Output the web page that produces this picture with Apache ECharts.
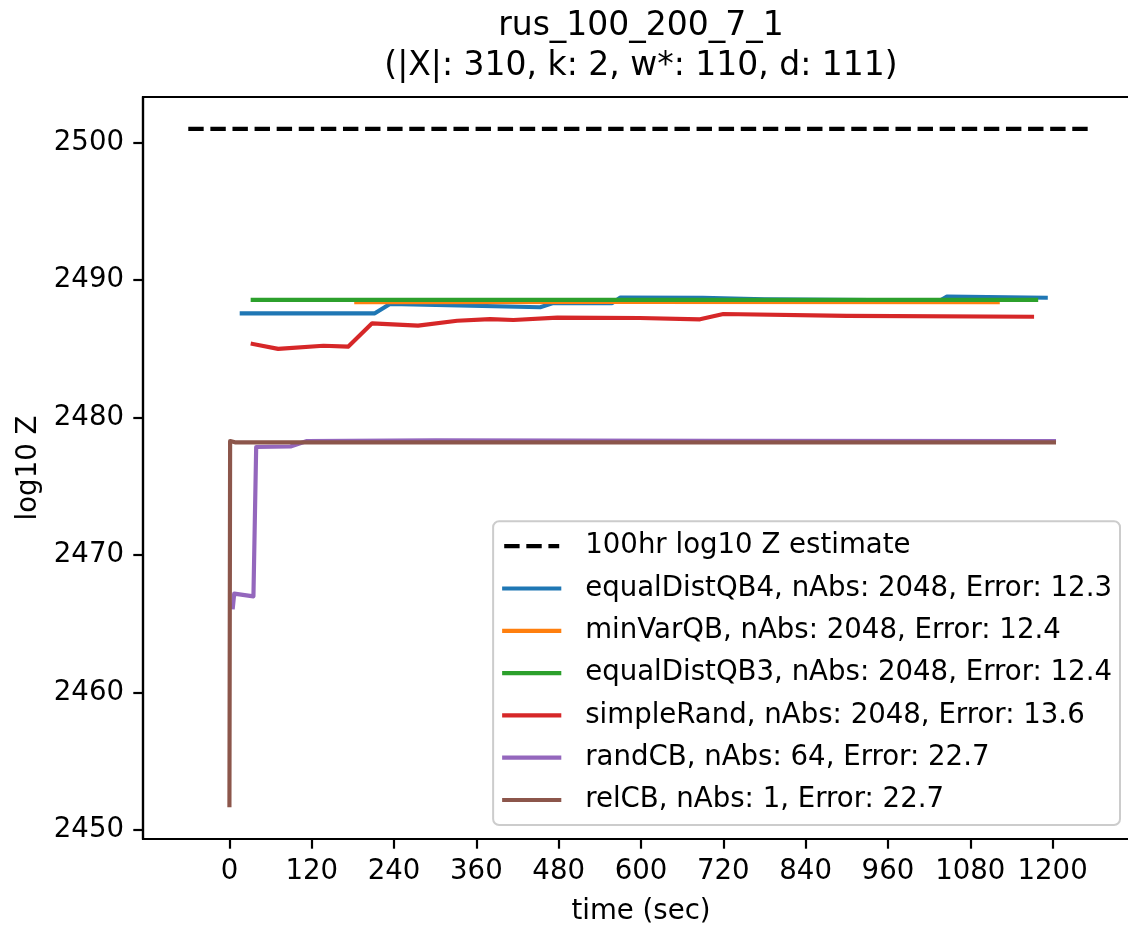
<!DOCTYPE html>
<html>
<head>
<meta charset="utf-8">
<title>rus_100_200_7_1</title>
<script src="https://cdn.jsdelivr.net/npm/echarts@6/dist/echarts.min.js"></script>
<style>
  html, body { margin: 0; padding: 0; background: #fff; }
  #main { width: 1128px; height: 927px; }
</style>
</head>
<body>
<div id="main"></div>
<script>
// tick labels
var xTicks = [0, 120, 240, 360, 480, 600, 720, 840, 960, 1080, 1200];
var yTicks = [2450, 2460, 2470, 2480, 2490, 2500];

// series names (legend order)
var names = [
    '100hr log10 Z estimate',
    'equalDistQB4, nAbs: 2048, Error: 12.3',
    'minVarQB, nAbs: 2048, Error: 12.4',
    'equalDistQB3, nAbs: 2048, Error: 12.4',
    'simpleRand, nAbs: 2048, Error: 13.6',
    'randCB, nAbs: 64, Error: 22.7',
    'relCB, nAbs: 1, Error: 22.7'
];

// [time sec, log10 Z]
var estimate = [[-60, 2501.0], [1260, 2501.0]];
var equalDistQB4 = [[18, 2487.59], [212, 2487.59], [234, 2488.27], [453, 2488.03], [472, 2488.33],
    [558, 2488.33], [570, 2488.74], [690, 2488.72], [780, 2488.6], [1036, 2488.52], [1046, 2488.8], [1190, 2488.72]];
var minVarQB = [[185, 2488.4], [600, 2488.42], [1120, 2488.4]];
var equalDistQB3 = [[34, 2488.56], [600, 2488.57], [1176, 2488.56]];
var simpleRand = [[34, 2485.36], [71, 2485.0], [137, 2485.23], [173, 2485.16], [208, 2486.86], [275, 2486.69],
    [332, 2487.05], [380, 2487.17], [414, 2487.1], [478, 2487.27], [598, 2487.25], [686, 2487.15],
    [720, 2487.54], [900, 2487.4], [1170, 2487.34]];
var randCB = [[5, 2466.2], [7, 2467.2], [35, 2467.0], [39, 2477.86], [89, 2477.9], [113, 2478.3],
    [300, 2478.35], [700, 2478.32], [1202, 2478.3]];
var relCB = [[0, 2451.8], [1, 2478.3], [8, 2478.2], [1202, 2478.2]];

var colors = ['#000000', '#1f77b4', '#ff7f0e', '#2ca02c', '#d62728', '#9467bd', '#8c564b'];
var seriesData = [estimate, equalDistQB4, minVarQB, equalDistQB3, simpleRand, randCB, relCB];

var font = 'DejaVu Sans';
var fs = 27.6;
var lw = 4.17;

var chart = echarts.init(document.getElementById('main'));

var series = seriesData.map(function(d, i){
    return {
        name: names[i],
        type: 'line',
        data: d,
        symbol: 'none',
        showSymbol: false,
        color: colors[i],
        lineStyle: {
            color: colors[i],
            width: lw,
            type: i === 0 ? [15.4, 6.7] : 'solid',
            join: 'round',
            cap: i === 0 ? 'butt' : 'square'
        },
        emphasis: { disabled: true },
        z: 2 + i
    };
});

// plain numbers, no thousands separator
var plain = function(v){ return String(v); };

chart.setOption({
    animation: false,
    backgroundColor: '#ffffff',
    textStyle: { fontFamily: font },
    graphic: [{
        type: 'text',
        x: 641,
        y: 6,
        style: {
            text: 'rus_100_200_7_1\n(|X|: 310, k: 2, w*: 110, d: 111)',
            fontFamily: font,
            fontSize: 33,
            lineHeight: 40,
            fill: '#000',
            align: 'center',
            verticalAlign: 'top'
        }
    }],
    // the right edge of the axes box lies just past the picture
    grid: {
        left: 143,
        top: 97,
        width: 996,
        height: 742,
        outerBoundsMode: 'none',
        containLabel: false,
        show: true,
        borderColor: '#000',
        borderWidth: 2.2,
        backgroundColor: 'transparent'
    },
    legend: {
        orient: 'vertical',
        right: 8,
        bottom: 102,
        data: names,
        itemWidth: 55,
        itemHeight: 30,
        itemGap: 12.3,
        padding: [10, 8, 10, 9],
        backgroundColor: 'rgba(255,255,255,0.8)',
        borderColor: '#cccccc',
        borderWidth: 2,
        borderRadius: 6,
        selectedMode: false,
        itemStyle: { opacity: 0 },
        lineStyle: { width: lw },
        textStyle: {
            fontFamily: font,
            fontSize: fs,
            color: '#000',
            lineHeight: 30,
            padding: [0, 0, 0, 21]
        }
    },
    xAxis: {
        type: 'value',
        min: -126,
        max: 1326,
        name: 'time (sec)',
        nameLocation: 'middle',
        nameGap: 59,
        nameTextStyle: { fontFamily: font, fontSize: fs, color: '#000' },
        axisLine: { show: true, onZero: false, lineStyle: { color: '#000', width: 2.2 } },
        splitLine: { show: false },
        axisTick: {
            show: true,
            length: 9.7,
            lineStyle: { color: '#000', width: 2.2 },
            customValues: xTicks
        },
        axisLabel: {
            fontFamily: font,
            fontSize: fs,
            color: '#000',
            margin: 19,
            customValues: xTicks,
            formatter: plain
        }
    },
    yAxis: {
        type: 'value',
        min: 2449.345,
        max: 2503.325,
        name: 'log10 Z',
        nameLocation: 'middle',
        nameRotate: 90,
        nameGap: 93,
        nameTextStyle: { fontFamily: font, fontSize: fs, color: '#000' },
        axisLine: { show: true, onZero: false, lineStyle: { color: '#000', width: 2.2 } },
        splitLine: { show: false },
        axisTick: {
            show: true,
            length: 9.7,
            lineStyle: { color: '#000', width: 2.2 },
            customValues: yTicks
        },
        axisLabel: {
            fontFamily: font,
            fontSize: fs,
            color: '#000',
            margin: 19,
            customValues: yTicks,
            formatter: plain
        }
    },
    series: series
});
</script>
</body>
</html>
